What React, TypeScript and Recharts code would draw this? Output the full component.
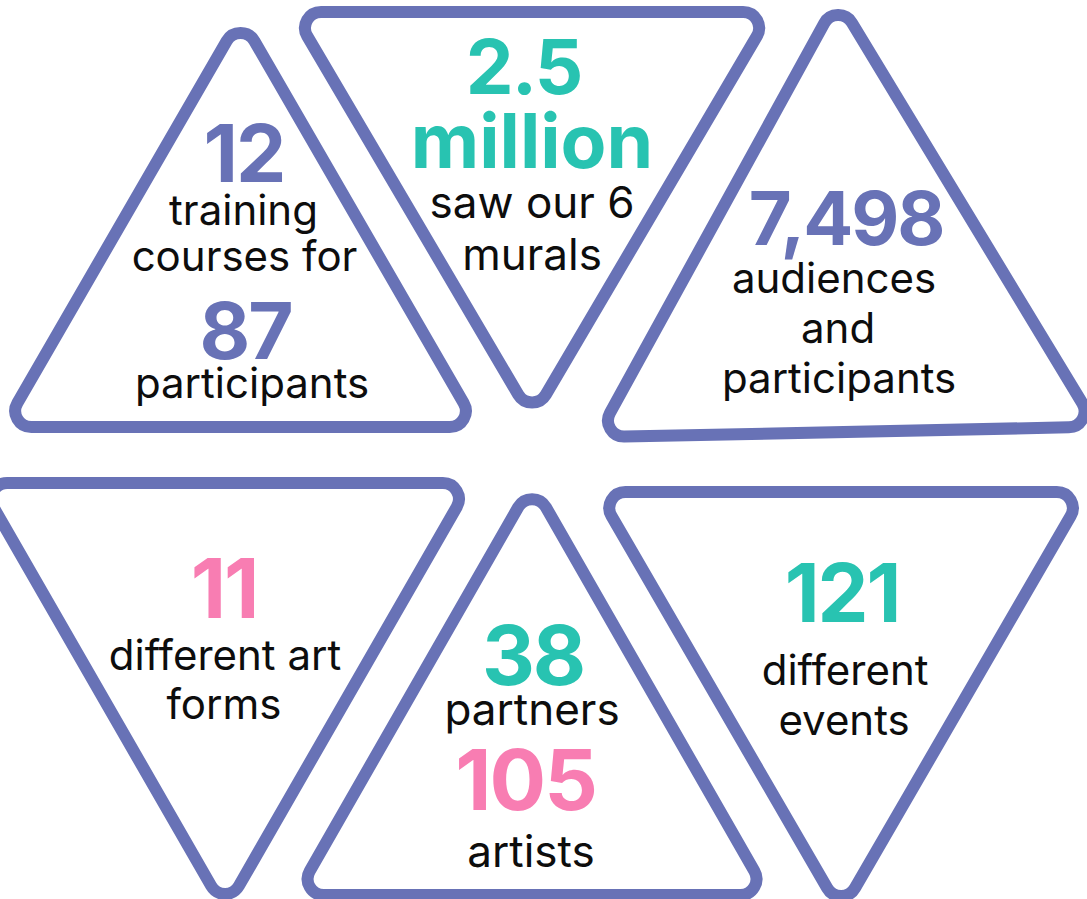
import React from 'react'
import { ScatterChart, Scatter, XAxis, YAxis } from 'recharts'

// six stat cards laid out on a 3 x 2 grid of triangles
const cardIds = ['training', 'murals', 'audiences', 'artForms', 'partners', 'events']
const columns = [0, 1, 2, 0, 1, 2]
const rows = [0, 0, 0, 1, 1, 1]
const pointing = ['up', 'down', 'up', 'down', 'up', 'down']
const cardLines = [
  ['12', 'training', 'courses for', '87', 'participants'],
  ['2.5', 'million', 'saw our 6', 'murals'],
  ['7,498', 'audiences', 'and', 'participants'],
  ['11', 'different art', 'forms'],
  ['38', 'partners', '105', 'artists'],
  ['121', 'different', 'events'],
]

const W = 1087
const H = 899
const STROKE = '#6872b6'
const PURPLE = '#6872b6'
const TEAL = '#28c3b1'
const PINK = '#f87db2'
const INK = '#0d0d0d'
const FONT = 'Inter, "Noto Sans", sans-serif'

// triangle geometry relative to its grid slot
const shapes = [
  { dx: 3.5, dy: 2, w: 474, h: 410, rot: 0 },
  { dx: -5, dy: -5, w: 478, h: 406, rot: 0 },
  { dx: 5, dy: -4.5, w: 500, h: 433, rot: -1.2 },
  { dx: -12, dy: 1.5, w: 491, h: 427, rot: 0 },
  { dx: -5, dy: -6, w: 472, h: 412, rot: 0 },
  { dx: 4, dy: 7, w: 487, h: 420, rot: 0 },
]

type LineStyle = { dx: number; dy: number; size: number; color: string; bold?: boolean; ls: number }
const B = (dx: number, dy: number, size: number, color: string, ls = -2): LineStyle => ({ dx, dy, size, color, bold: true, ls })
const T = (dx: number, dy: number, size = 42): LineStyle => ({ dx, dy, size, color: INK, ls: 0 })

const lineStyles: LineStyle[][] = [
  [B(3.5, -40, 80, PURPLE), T(3, 3), T(4, 49), B(5, 137, 78, PURPLE), T(11.5, 176)],
  [B(-8.5, -121, 76, TEAL), B(0, -47, 75, TEAL, 0), T(0, 3, 44), T(0, 55, 44)],
  [B(4, 29.5, 74, PURPLE), T(-8, 77.5), T(-4, 127.5), T(-3, 177.5)],
  [B(-1, -78.5, 82, PINK), T(0, -26.5), T(-1, 22.5)],
  [B(1, -4, 82, TEAL), T(0, 36, 44), B(-6.5, 121, 84, PINK), T(-1, 178, 44)],
  [B(1, -80, 81, TEAL), T(4, -17), T(3, 33)],
]

type Pt = { x: number; y: number }

function roundedPath(pts: Pt[], r: number) {
  const n = pts.length
  let d = ''
  for (let i = 0; i < n; i++) {
    const prev = pts[(i - 1 + n) % n]
    const cur = pts[i]
    const next = pts[(i + 1) % n]
    const l1 = Math.hypot(prev.x - cur.x, prev.y - cur.y)
    const l2 = Math.hypot(next.x - cur.x, next.y - cur.y)
    const v1 = { x: (prev.x - cur.x) / l1, y: (prev.y - cur.y) / l1 }
    const v2 = { x: (next.x - cur.x) / l2, y: (next.y - cur.y) / l2 }
    const ang = Math.acos(v1.x * v2.x + v1.y * v2.y)
    const cut = r / Math.tan(ang / 2)
    const p1 = { x: cur.x + v1.x * cut, y: cur.y + v1.y * cut }
    const p2 = { x: cur.x + v2.x * cut, y: cur.y + v2.y * cut }
    const cross = (cur.x - prev.x) * (next.y - cur.y) - (cur.y - prev.y) * (next.x - cur.x)
    d += `${i === 0 ? 'M' : 'L'}${p1.x},${p1.y} A${r},${r} 0 0 ${cross > 0 ? 1 : 0} ${p2.x},${p2.y} `
  }
  return d + 'Z'
}

function TriangleCard(props: any) {
  const { cx, cy, payload } = props
  const i = payload.i as number
  const s = shapes[i]
  const x0 = cx + s.dx
  const y0 = cy + s.dy
  const hw = s.w / 2
  const hh = s.h / 2
  const raw: Pt[] = pointing[i] === 'up'
    ? [{ x: 0, y: -hh }, { x: hw, y: hh }, { x: -hw, y: hh }]
    : [{ x: -hw, y: -hh }, { x: hw, y: -hh }, { x: 0, y: hh }]
  const a = (s.rot * Math.PI) / 180
  const pts = raw.map(p => ({
    x: x0 + p.x * Math.cos(a) - p.y * Math.sin(a),
    y: y0 + p.x * Math.sin(a) + p.y * Math.cos(a),
  }))
  return (
    <g>
      <path d={roundedPath(pts, 16)} fill="none" stroke={STROKE} strokeWidth={12} />
      {cardLines[i].map((txt, k) => {
        const st = lineStyles[i][k]
        return (
          <text
            key={k}
            x={x0 + st.dx}
            y={y0 + st.dy}
            textAnchor="middle"
            fontFamily={FONT}
            fontSize={st.size}
            fontWeight={st.bold ? 700 : 400}
            letterSpacing={st.ls}
            fill={st.color}
          >
            {txt}
          </text>
        )
      })}
    </g>
  )
}

export default function App() {
  const data = cardIds.map((id, i) => ({ id, i, x: columns[i], y: rows[i] }))
  return (
    <div style={{ position: 'absolute', left: 0, top: 0, width: W, height: H, background: '#fff' }}>
      <ScatterChart width={W} height={H} margin={{ top: 0, right: 0, bottom: 0, left: 0 }}>
        <XAxis type="number" dataKey="x" domain={[-0.79, 2.833]} hide />
        <YAxis type="number" dataKey="y" domain={[-0.4632, 1.4295]} reversed hide />
        <Scatter data={data} shape={(p: any) => <TriangleCard {...p} />} isAnimationActive={false} />
      </ScatterChart>
    </div>
  )
}
